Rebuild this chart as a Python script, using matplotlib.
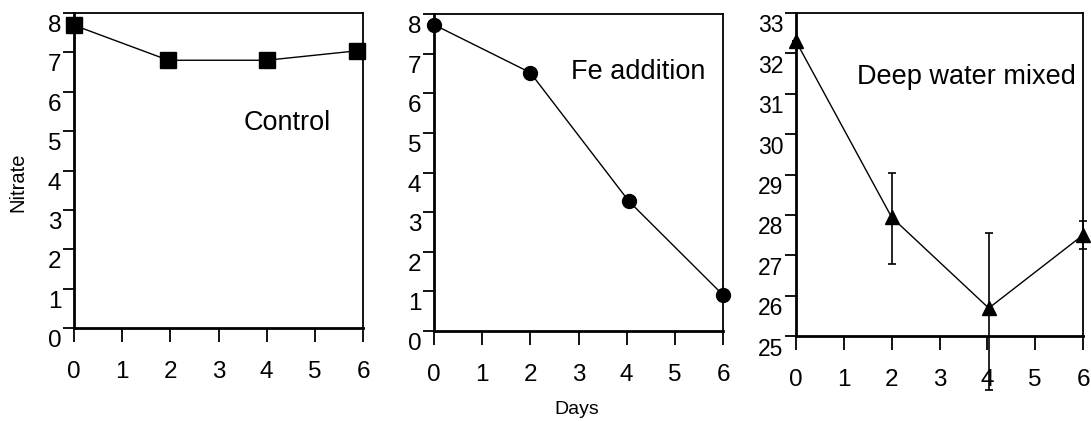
import matplotlib
matplotlib.use("Agg")
import matplotlib.pyplot as plt
from matplotlib.transforms import ScaledTranslation

plt.rcParams['font.family'] = ['Liberation Sans', 'DejaVu Sans']

days_control = [0, 1.96, 4, 5.88]
nitrate_control = [7.69, 6.80, 6.80, 7.04]

days_fe = [0, 2, 4.05, 6]
nitrate_fe = [7.73, 6.52, 3.27, 0.91]

days_deep = [0, 2, 4.03, 6]
nitrate_deep = [32.30, 27.94, 25.69, 27.50]
err_low_deep = [0, 1.16, 2.03, 0.35]
err_high_deep = [0, 1.09, 1.87, 0.36]

xticks = [0, 1, 2, 3, 4, 5, 6]
yticks_a = [0, 1, 2, 3, 4, 5, 6, 7, 8]
yticks_b = [25, 26, 27, 28, 29, 30, 31, 32, 33]

labels = ["Control", "Fe addition", "Deep water mixed"]

W, H = 1091, 421
fig = plt.figure(figsize=(W / 100, H / 100), dpi=100)

def rect(l, r, t, b):
    return [l / W, (H - b) / H, (r - l) / W, (b - t) / H]

ax1 = fig.add_axes(rect(74, 363, 13, 328))
ax2 = fig.add_axes(rect(434, 723, 14, 331))
ax3 = fig.add_axes(rect(796, 1083, 13, 336))

def style(ax, yticks, ylim, yfs):
    ax.set_xlim(0, 6)
    ax.set_ylim(*ylim)
    ax.set_xticks(xticks)
    ax.set_yticks(yticks)
    for s in ['left', 'bottom']:
        ax.spines[s].set_linewidth(2.0)
    for s in ['top', 'right']:
        ax.spines[s].set_linewidth(1.3)
    ax.tick_params(axis='x', direction='out', length=10, width=1.3, pad=14, labelsize=17.5)
    ax.tick_params(axis='y', direction='out', length=8, width=1.3, pad=1, labelsize=yfs)
    off = ScaledTranslation(0, -0.105, fig.dpi_scale_trans)
    for lab in ax.get_yticklabels():
        lab.set_transform(lab.get_transform() + off)

style(ax1, yticks_a, (0, 8), 17.5)
style(ax2, yticks_a, (0, 8), 17.5)
style(ax3, yticks_b, (25, 33), 16.5)

ax1.plot(days_control, nitrate_control, color='black', lw=1.0, marker='s',
         markersize=11.5, clip_on=False, zorder=5)
ax2.plot(days_fe, nitrate_fe, color='black', lw=1.0, marker='o',
         markersize=10, clip_on=False, zorder=5)
ax3.plot(days_deep, nitrate_deep, color='black', lw=1.0, marker='^',
         markersize=10.5, clip_on=False, zorder=5)
eb = ax3.errorbar(days_deep, nitrate_deep, yerr=[err_low_deep, err_high_deep],
                  fmt='none', ecolor='black', elinewidth=1.2, capsize=3,
                  capthick=1.2, zorder=4)
for art in eb.lines[1] + eb.lines[2]:
    art.set_clip_on(False)
for art in eb.lines[2]:
    art.set_clip_on(False)

def figtext(x, y, s, size, **kw):
    fig.text(x / W, 1 - y / H, s, fontsize=size, ha='center', va='center', **kw)

figtext(287, 123, labels[0], 19.5)
figtext(638, 72, labels[1], 19.5)
figtext(966, 77, labels[2], 19.5)
figtext(18, 182, "Nitrate", 14.5, rotation=90)
figtext(577, 409, "Days", 14)

fig.savefig("out.png", dpi=100)
